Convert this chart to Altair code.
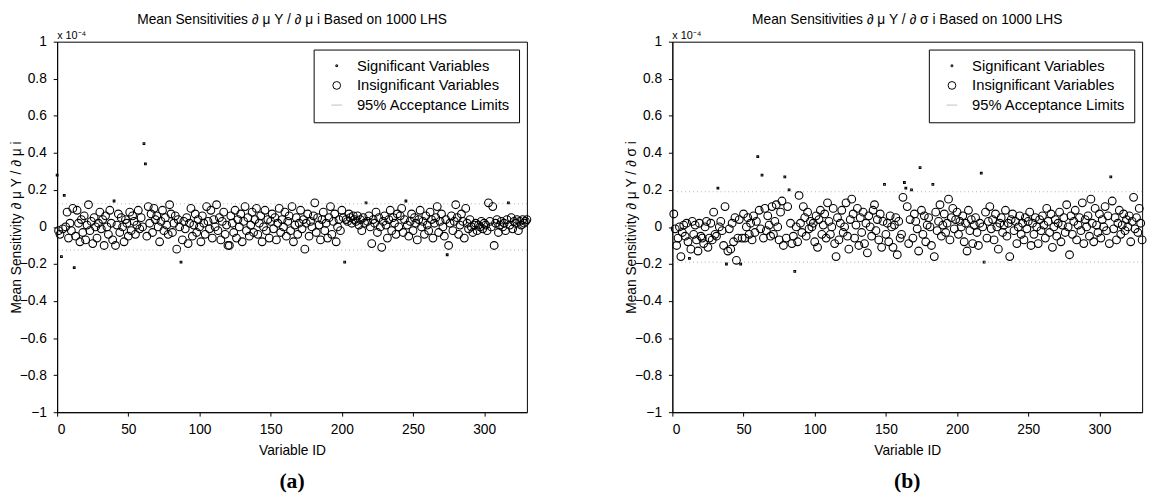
import altair as alt
import pandas as pd

FONT = "Liberation Sans"

# Values are in units of 1e-6 (the axis is in units of 1e-4, so divide by 100)
# ---------------- panel (a) : dmuY / dmu_i ----------------
a_circles = [
    -2, -4, 1, -1, -3, 0, 8, -6, 2, -2,
    10, 3, -5, 9, 2, -8, 4, -3, 6, -7,
    1, 12, -2, 3, -9, 5, 0, -6, 2, 8,
    -1, 4, -10, 6, 0, -4, 9, 2, -7, 3,
    -10, 1, 7, -3, 5, 0, -8, 4, 2, -5,
    8, -2, 6, 3, -4, 1, 9, -1, 5, 0,
    -6, 13, -5, 11, 2, 7, -3, 10, 4, 6,
    0, -8, 3, 9, -2, 5, 1, -4, 12, 7,
    -3, 2, 6, -12, 4, 0, 8, -7, 3, -1,
    5, -9, 2, 10, -5, 1, 7, -3, 4, 0,
    -8, 6, 2, -4, 11, 3, -1, 9, -6, 4,
    0, 12, -2, 5, -7, 3, 8, -4, 1, -10,
    -10, 6, 2, -3, 9, -6, 4, 0, 7, -8,
    3, 11, -2, 5, -5, 1, 8, -3, 4, 10,
    -4, 2, 6, -8, 0, 9, -2, 4, -6, 3,
    7, -1, 5, -7, 2, 10, -3, 4, 0, 8,
    -5, 3, 6, -2, 11, -8, 1, 5, -4, 2,
    9, -1, 4, -12, 2, 7, -5, 3, 0, 6,
    13, -3, 5, 1, -7, 4, 8, -2, 2, -6,
    5, 11, -4, 3, 7, -8, 0, 4, -2, 9,
    5, 6, 4, 3, 7, 5, 2, 6, 4, 3,
    6, 1, 4, -2, 5, 2, -5, 3, 6, 0,
    -9, 4, 2, 8, -3, 5, 0, -11, 3, 6,
    1, -6, 4, 9, -2, 5, 2, -4, 7, 0,
    6, 10, -3, 4, 8, 1, -5, 3, 7, -2,
    5, 2, -7, 4, 9, 0, 3, -4, 6, 1,
    -2, 8, 4, -6, 2, 5, 11, -3, 3, 7,
    0, -5, 4, 9, -10, 2, 6, -2, 3, 12,
    5, -4, 1, 7, 3, -6, 10, 2, -1, 4,
    0, -3, 1, 2, -2, 1, 0, 3, -1, 2,
    1, -2, 13, 3, 0, 11, -10, 2, 4, -3,
    1, 3, 0, 2, -2, 4, 9, 1, 5, -1,
    3, 2, 4, -2, 3, 1, 4, 2, 3, 4,
]
a_sig_ids = [0, 3, 5, 12, 40, 61, 62, 87, 202, 217, 245, 274, 317]
a_sig_vals = [28, -16, 17, -22, 14, 45, 34, -19, -19, 13, 14, -15, 13]
a_limit = 12.5

# ---------------- panel (b) : dmuY / dsigma_i ----------------
b_circles = [
    7, -1, -10, -6, 0, -16, -3, 1, -5, 2,
    -8, 0, -12, 3, -4, 1, -7, -13, 2, -5,
    -6, -9, 0, 3, -11, -6, 2, -7, 8, -4,
    -5, -9, 0, 3, -2, -10, 11, -5, -13, -1,
    -12, 2, -8, 5, -18, -6, 4, -2, -6, 7,
    -6, 0, 5, -4, 2, -7, 6, -3, 3, -6,
    9, -1, 4, -6, 10, -2, 6, 1, -5, 11,
    -4, 3, 12, 0, -7, 8, 14, -10, 13, -6,
    11, -2, 2, -9, -5, 6, 0, -8, 17, 2,
    -3, 11, 5, -5, 8, -1, 3, 0, 2, -8,
    6, -11, 4, 9, -4, 1, 7, -6, 13, 3,
    -4, 0, 10, -9, -16, 5, -7, 2, 9, -3,
    0, 13, -5, -12, 4, 15, 7, -6, 1, 10,
    -10, 5, -3, 8, -9, 2, -14, 6, 0, -5,
    9, 12, -2, 4, -7, 7, -11, 3, 10, -4,
    2, -8, 6, 0, -11, 1, 5, -15, 3, -6,
    -4, 16, 8, -2, 11, -9, 4, 0, -6, 7,
    3, -1, -13, 2, 9, -4, 6, -8, 1, 5,
    0, -10, 4, -16, 8, -2, 3, 12, -5, 1,
    7, -3, 2, 15, -7, 5, 10, -1, 4, 8,
    -4, 3, 0, 6, -8, 2, -13, 9, -2, 4,
    -9, 1, 5, -3, -10, 2, 6, 0, -14, 8,
    -6, 3, 11, -1, 4, -7, 7, 0, -12, 2,
    5, -3, 1, 9, -5, 2, -16, 4, 7, -2,
    3, -9, 0, 6, -4, 2, -7, 5, -1, 3,
    8, -10, 2, -4, 5, 0, -9, 4, -2, 6,
    1, -6, 10, 3, -3, 7, -11, 0, 4, -5,
    2, 8, -8, 1, 5, -3, 12, 0, -15, 6,
    -4, 3, 9, -7, 1, 5, -2, 13, -9, 4,
    0, 6, -5, 15, 2, -8, 10, 1, -3, 7,
    -6, 4, 0, 11, -2, 6, -9, 3, 14, -1,
    5, -7, 2, 9, -4, 1, 7, -2, 4, 0,
    6, -8, 3, 16, -1, 5, -3, 10, 2, -7,
]
b_sig_ids = [12, 32, 38, 48, 60, 63, 79, 82, 86, 149, 163, 164, 168, 174, 183, 217, 219, 308]
b_sig_vals = [-17, 21, -20, -20, 38, 28, 27, 20, -24, 23, 24, 21, 20, 32, 23, 29, -19, 27]
b_limit = 19

KINDS = ["Significant Variables", "Insignificant Variables", "95% Acceptance Limits"]
X_TICKS = [0, 50, 100, 150, 200, 250, 300]
Y_TICKS = [-1, -0.8, -0.6, -0.4, -0.2, 0, 0.2, 0.4, 0.6, 0.8, 1]


def panel(circ, sig_ids, sig_vals, limit, title, ytitle, tag, w, h):
    sigset = set(sig_ids)
    rows = [{"id": i, "v": v / 100, "kind": KINDS[1]}
            for i, v in zip(range(1, len(circ) + 1), circ) if i not in sigset]
    rows += [{"id": i, "v": v / 100, "kind": KINDS[0]} for i, v in zip(sig_ids, sig_vals)]
    df = pd.DataFrame(rows)

    x = alt.X("id:Q", scale=alt.Scale(domain=[0, 330], nice=False, zero=False),
              axis=alt.Axis(values=X_TICKS, title="Variable ID", format="d"))
    y_axis = alt.Axis(values=Y_TICKS, title=ytitle, format="~g", tickCount=11,
                      labelOverlap=False, labelFlush=False)
    y_scale = alt.Scale(domain=[-1, 1], nice=False)

    leg = alt.Legend(title=None)
    pts = alt.Chart(df).mark_point(filled=False, strokeWidth=1.1, opacity=1).encode(
        x=x, y=alt.Y("v:Q", scale=y_scale, axis=y_axis),
        shape=alt.Shape("kind:N", scale=alt.Scale(domain=KINDS, range=["square", "circle", "M-1,0H1"]), legend=leg),
        size=alt.Size("kind:N", scale=alt.Scale(domain=KINDS, range=[3, 121, 121]), legend=leg),
        color=alt.Color("kind:N", scale=alt.Scale(domain=KINDS, range=["black", "black", "#c0c0c0"]), legend=leg),
    )
    lim = alt.Chart(pd.DataFrame({"v": [limit / 100, -limit / 100]})).mark_rule(
        strokeDash=[1, 3], color="#b0b0b0", strokeWidth=1).encode(
        y=alt.Y("v:Q", scale=y_scale, axis=y_axis))
    exp = alt.Chart(pd.DataFrame({"t": ["x 10\u207b\u2074"]})).mark_text(
        align="left", baseline="bottom", font=FONT, fontSize=11, color="black").encode(
        text="t:N", x=alt.value(0), y=alt.value(-1))
    lab = alt.Chart(pd.DataFrame({"t": [tag]})).mark_text(
        align="center", baseline="middle", font="Liberation Serif", fontSize=22,
        fontWeight="bold", color="black").encode(
        text="t:N", x=alt.value(w / 2), y=alt.value(h + 70))
    return alt.layer(pts, lim, exp, lab).properties(
        width=w, height=h,
        title=alt.TitleParams(title, font=FONT, fontSize=14, fontWeight="normal",
                              offset=3, color="black", anchor="middle"),
    )


pa = panel(a_circles, a_sig_ids, a_sig_vals, a_limit,
           "Mean Sensitivities \u2202 \u03bc Y / \u2202 \u03bc i Based on 1000 LHS",
           "Mean Sensitivity \u2202 \u03bc Y / \u2202 \u03bc i", "(a)", 478, 377)
pb = panel(b_circles, b_sig_ids, b_sig_vals, b_limit,
           "Mean Sensitivities \u2202 \u03bc Y / \u2202 \u03c3 i Based on 1000 LHS",
           "Mean Sensitivity \u2202 \u03bc Y / \u2202 \u03c3 i", "(b)", 478, 377)

chart = alt.hconcat(pa, pb, spacing=92).resolve_scale(
    shape="independent", size="independent", color="independent"
).properties(
    padding={"left": 1, "top": 0, "right": 0, "bottom": 0}
).configure_view(
    stroke="black", strokeWidth=1
).configure_axis(
    grid=False, labelFont=FONT, labelFontSize=14, labelColor="black",
    titleFont=FONT, titleFontSize=14, titleFontWeight="normal", titleColor="black",
    tickColor="black", domainColor="black", tickSize=4, labelPadding=7,
).configure_axisY(
    titlePadding=0, minExtent=34, maxExtent=34, labelOverlap=False,
).configure_axisX(
    titlePadding=7,
).configure_legend(
    orient="top-right", offset=8, fillColor="white", strokeColor="black",
    padding=9, labelFont=FONT, labelFontSize=15, labelColor="black",
    symbolStrokeWidth=1, symbolOffset=7, labelOffset=13, rowPadding=4,
    labelLimit=300,
)

chart.save("out.html", embed_options={"renderer": "svg", "actions": False})
